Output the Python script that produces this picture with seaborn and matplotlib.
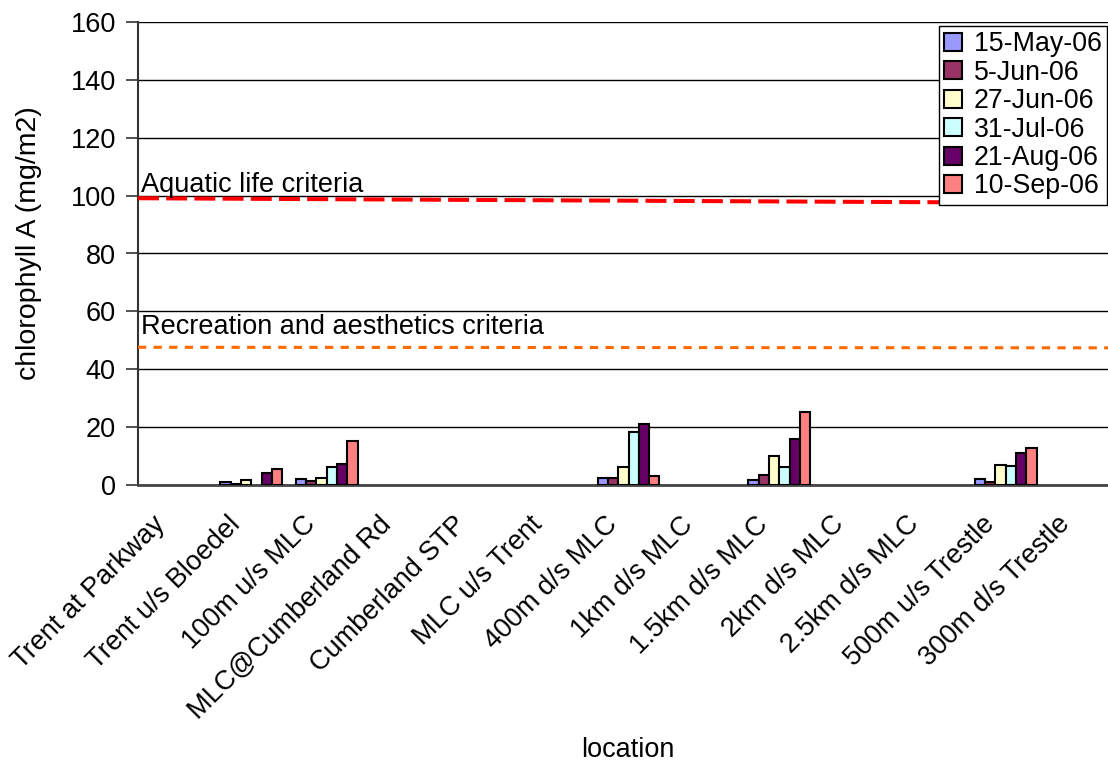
import numpy as np
import pandas as pd
import matplotlib
matplotlib.use("Agg")
import matplotlib.pyplot as plt
import seaborn as sns

# ---- data ----
categories = ["Trent at Parkway", "Trent u/s Bloedel", "100m u/s MLC", "MLC@Cumberland Rd",
              "Cumberland STP", "MLC u/s Trent", "400m d/s MLC", "1km d/s MLC",
              "1.5km d/s MLC", "2km d/s MLC", "2.5km d/s MLC", "500m u/s Trestle",
              "300m d/s Trestle"]
dates = ["15-May-06", "5-Jun-06", "27-Jun-06", "31-Jul-06", "21-Aug-06", "10-Sep-06"]
nan = np.nan
may15 = [nan, 1.0, 2.2, nan, nan, nan, 2.3, nan, 1.6, nan, nan, 2.1, nan]
jun05 = [nan, 0.5, 1.3, nan, nan, nan, 2.4, nan, 3.6, nan, nan, 1.2, nan]
jun27 = [nan, 1.6, 2.4, nan, nan, nan, 6.2, nan, 10.1, nan, nan, 7.0, nan]
jul31 = [nan, nan, 6.1, nan, nan, nan, 18.2, nan, 6.2, nan, nan, 6.6, nan]
aug21 = [nan, 4.0, 7.2, nan, nan, nan, 21.1, nan, 15.8, nan, nan, 10.9, nan]
sep10 = [nan, 5.5, 15.1, nan, nan, nan, 3.1, nan, 25.1, nan, nan, 12.8, nan]
series = [may15, jun05, jun27, jul31, aug21, sep10]

criteria_x = [-0.5, 12.5]
aquatic_life = [99.1, 97.4]
recreation = [47.6, 47.4]
yticks = [0, 20, 40, 60, 80, 100, 120, 140, 160]

colors = ["#9999FF", "#993366", "#FFFFCC", "#CCFFFF", "#660066", "#FF8080"]

rows = []
for d, vals in zip(dates, series):
    for c, v in zip(categories, vals):
        rows.append({"location": c, "date": d, "value": v})
df = pd.DataFrame(rows)

sns.set_style("white")
plt.rcParams["font.family"] = ["Liberation Sans", "DejaVu Sans"]
plt.rcParams["text.color"] = "black"
plt.rcParams["axes.labelcolor"] = "black"
plt.rcParams["xtick.color"] = "black"
plt.rcParams["ytick.color"] = "black"

W, H = 1108, 764
fig = plt.figure(figsize=(W / 100, H / 100), dpi=100)
ax = fig.add_axes([138 / W, 1 - 485 / H, (1119 - 138) / W, (485 - 22) / H])

sns.barplot(data=df, x="location", y="value", hue="date", order=categories,
            hue_order=dates, palette=colors, saturation=1, width=0.82, edgecolor="black",
            linewidth=1.5, errorbar=None, ax=ax, zorder=3)

ax.plot(criteria_x, aquatic_life, color="#FF0000", lw=2.9, dashes=(5.2, 1.8), zorder=4)
ax.plot(criteria_x, recreation, color="#FF6A00", lw=2.2, dashes=(2.7, 2.4), zorder=4)
ax.text(-0.46, 101.2, "Aquatic life criteria", fontsize=19.5, va="baseline", ha="left",
        color="black", zorder=5)
ax.text(-0.46, 52.2, "Recreation and aesthetics criteria", fontsize=19.5, va="baseline",
        ha="left", color="black", zorder=5)

ax.set_xlim(-0.5, 12.5)
ax.set_ylim(0, 160)
ax.set_yticks(yticks)
ax.yaxis.grid(True, color="black", lw=1.0, zorder=0)
ax.xaxis.grid(False)
ax.set_axisbelow(True)

# labels anchored slightly left of each category centre (as in the original)
ax.set_xticks(np.arange(len(categories)) - 0.32)
ax.set_xticklabels(categories, rotation=45, ha="right", va="top",
                   rotation_mode="anchor", fontsize=19.5, color="black")
ax.set_xticks(np.arange(-0.5, len(categories), 1.0), minor=True)
ax.tick_params(axis="x", which="major", length=0, pad=19)
ax.tick_params(axis="x", which="minor", length=8, width=1.2, color="#333333", direction="out")
ax.tick_params(axis="y", length=9, width=1.2, color="#333333", direction="out", pad=7,
               labelsize=19.5, labelcolor="black")
ax.tick_params(axis="both", bottom=True, left=True)

for s in ["top", "right"]:
    ax.spines[s].set_visible(False)
ax.spines["left"].set_color("#333333")
ax.spines["left"].set_linewidth(1.5)
ax.spines["bottom"].set_color("#444444")
ax.spines["bottom"].set_linewidth(2.0)

ax.set_xlabel("location", fontsize=19.5, color="black")
ax.set_ylabel("chlorophyll A (mg/m2)", fontsize=20.5, color="black")
ax.xaxis.set_label_coords((628 - 138) / (1119 - 138), -(737 - 485) / (485 - 22))
ax.yaxis.set_label_coords((42 - 138) / (1119 - 138), (485 - 243) / (485 - 22))

handles, labels = ax.get_legend_handles_labels()
leg = ax.legend(handles, labels, loc="upper right",
                bbox_to_anchor=(1107 / W, 1 - 26 / H), bbox_transform=fig.transFigure,
                frameon=True, fancybox=False, edgecolor="black", framealpha=1,
                fontsize=19.3, handlelength=0.65, handleheight=0.65, handletextpad=0.45,
                labelspacing=0.09, borderpad=0.2, borderaxespad=0, labelcolor="black")
leg.get_frame().set_linewidth(1.0)
leg.set_zorder(6)

fig.savefig("out.png", dpi=100)
